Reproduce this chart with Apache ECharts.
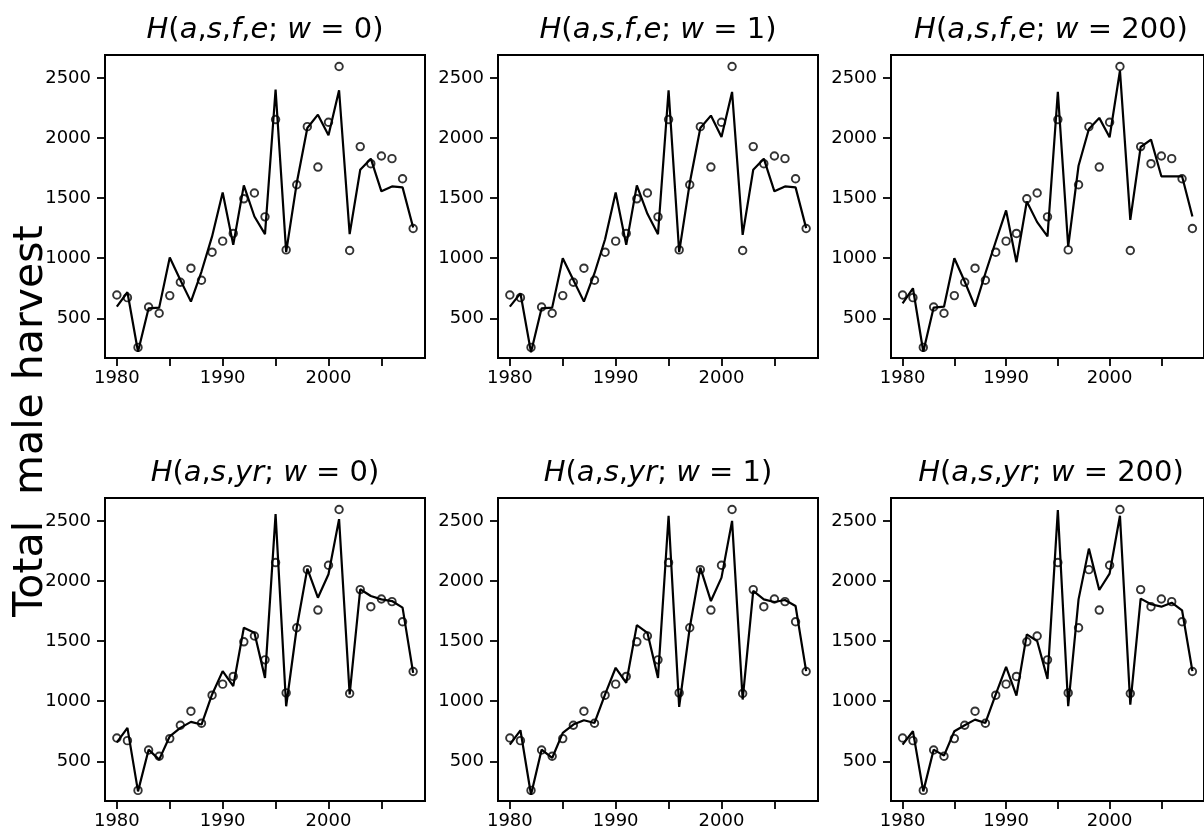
<!DOCTYPE html>
<html>
<head>
<meta charset="utf-8">
<script src="https://cdn.jsdelivr.net/npm/echarts@6/dist/echarts.min.js"></script>
<style>
html,body{margin:0;padding:0;background:#fff;}
#chart{width:1204px;height:835px;}
</style>
</head>
<body>
<div id="chart"></div>
<script>
const years = [1980,1981,1982,1983,1984,1985,1986,1987,1988,1989,1990,1991,1992,1993,1994,1995,1996,1997,1998,1999,2000,2001,2002,2003,2004,2005,2006,2007,2008];
const observed = [694,672,258,594,542,689,800,917,817,1050,1142,1206,1494,1542,1344,2153,1069,1611,2094,1758,2131,2594,1064,1928,1786,1850,1828,1661,1247];
const fitFE0 = [597,717,222,583,589,1006,819,639,889,1181,1547,1111,1606,1347,1200,2403,1050,1625,2083,2194,2022,2397,1200,1736,1828,1556,1597,1589,1256];
const fitFE1 = [597,708,217,583,589,1000,819,639,875,1158,1547,1111,1606,1369,1200,2397,1050,1625,2083,2186,2008,2383,1194,1736,1828,1556,1597,1589,1250];
const fitFE200 = [625,750,222,589,597,1000,806,597,875,1139,1397,967,1472,1300,1181,2383,1097,1769,2075,2167,2006,2560,1319,1925,1986,1681,1681,1681,1347];
const fitYR0 = [658,778,250,597,514,708,778,828,806,1056,1250,1125,1611,1569,1194,2556,958,1611,2103,1861,2056,2514,1056,1931,1875,1847,1833,1778,1236];
const fitYR1 = [639,758,222,597,528,736,806,842,819,1056,1278,1153,1633,1569,1194,2542,953,1611,2111,1833,2028,2500,1014,1917,1847,1825,1842,1792,1250];
const fitYR200 = [639,750,250,597,547,750,800,847,819,1056,1286,1047,1556,1500,1186,2589,958,1847,2269,1925,2061,2542,972,1853,1806,1786,1819,1756,1250];
const yTicks = [500,1000,1500,2000,2500];
const xTicks = [1980,1985,1990,1995,2000,2005];
const xLabels = [1980,1990,2000];
const panelTitles = [
  '{i|H}({i|a},{i|s},{i|f},{i|e}; {i|w} = 0)',
  '{i|H}({i|a},{i|s},{i|f},{i|e}; {i|w} = 1)',
  '{i|H}({i|a},{i|s},{i|f},{i|e}; {i|w} = 200)',
  '{i|H}({i|a},{i|s},{i|yr}; {i|w} = 0)',
  '{i|H}({i|a},{i|s},{i|yr}; {i|w} = 1)',
  '{i|H}({i|a},{i|s},{i|yr}; {i|w} = 200)'
];
const fits = [fitFE0, fitFE1, fitFE200, fitYR0, fitYR1, fitYR200];
const yLabel = 'Total  male harvest';

const FONT = 'DejaVu Sans';
const lefts = [105, 498, 891];
const tops = [55, 498];
const W = 320, H = 303;

const grids = [], xAxes = [], yAxes = [], series = [], graphics = [];
for (let p = 0; p < 6; p++) {
  const col = p % 3, row = Math.floor(p / 3);
  grids.push({left: lefts[col], top: tops[row], width: W, height: H, show: true,
    borderColor: '#000', borderWidth: 2, backgroundColor: 'transparent', containLabel: false});
  xAxes.push({type: 'value', gridIndex: p, min: 1978.88, max: 2009.12,
    axisLine: {show: false},
    splitLine: {show: false},
    axisTick: {show: true, inside: false, length: 8, customValues: xTicks, lineStyle: {color: '#000', width: 1.8}},
    axisLabel: {show: true, customValues: xLabels, formatter: v => String(v), color: '#000', fontFamily: FONT, fontSize: 18, margin: 11}
  });
  yAxes.push({type: 'value', gridIndex: p, min: 170, max: 2690,
    axisLine: {show: false},
    splitLine: {show: false},
    axisTick: {show: true, inside: false, length: 8, customValues: yTicks, lineStyle: {color: '#000', width: 1.8}},
    axisLabel: {show: true, customValues: yTicks, formatter: v => String(v), color: '#000', fontFamily: FONT, fontSize: 18, margin: 14}
  });
  series.push({type: 'line', xAxisIndex: p, yAxisIndex: p,
    data: years.map((y, i) => [y, fits[p][i]]),
    showSymbol: false, symbol: 'none', lineStyle: {color: '#000', width: 2.2}, z: 2, silent: true, animation: false});
  series.push({type: 'scatter', xAxisIndex: p, yAxisIndex: p,
    data: years.map((y, i) => [y, observed[i]]),
    symbol: 'circle', symbolSize: 7.5,
    itemStyle: {color: 'rgba(0,0,0,0)', borderColor: '#000', borderWidth: 1.9}, z: 3, silent: true, animation: false});
  graphics.push({type: 'text', x: lefts[col] + W / 2, y: tops[row] - 25,
    style: {text: panelTitles[p], align: 'center', verticalAlign: 'middle',
      fontFamily: FONT, fontSize: 29, fill: '#000',
      rich: {i: {fontStyle: 'italic', fontFamily: FONT, fontSize: 29, fill: '#000'}}}});
}
graphics.push({type: 'text', x: 31, y: 421, rotation: Math.PI / 2,
  style: {text: yLabel, align: 'center', verticalAlign: 'middle', fontFamily: FONT, fontSize: 41, fill: '#000'}});

const chart = echarts.init(document.getElementById('chart'), null, {renderer: 'canvas'});
chart.setOption({
  animation: false,
  backgroundColor: '#fff',
  grid: grids,
  xAxis: xAxes,
  yAxis: yAxes,
  series: series,
  graphic: graphics
});
</script>
</body>
</html>
